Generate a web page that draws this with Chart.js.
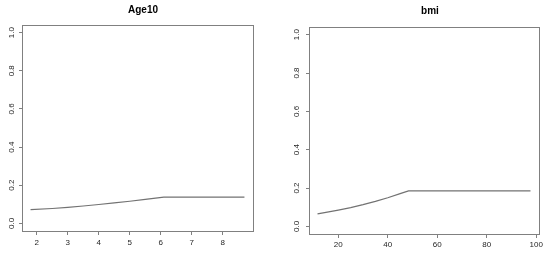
<!DOCTYPE html>
<html>
<head>
<meta charset="utf-8">
<script src="https://cdn.jsdelivr.net/npm/chart.js@4/dist/chart.umd.min.js"></script>
<style>
html,body{margin:0;padding:0;background:#fff;}
#wrap{position:relative;width:550px;height:255px;overflow:hidden;}
.cv{position:absolute;top:0;}
</style>
</head>
<body>
<div id="wrap">
  <div class="cv" style="left:0;width:275px;height:255px;"><canvas id="c1"></canvas></div>
  <div class="cv" style="left:275px;width:275px;height:255px;"><canvas id="c2"></canvas></div>
</div>
<script>
// ---- data ----
const titleAge = "Age10";
const ageX = [1.8, 2.5, 3.0, 3.5, 4.0, 4.5, 5.0, 5.5, 6.1, 7.0, 8.0, 8.7];
const ageY = [0.072, 0.078, 0.084, 0.091, 0.099, 0.107, 0.116, 0.126, 0.138, 0.138, 0.138, 0.138];
const ageXTicks = [2, 3, 4, 5, 6, 7, 8];

const titleBmi = "bmi";
const bmiX = [11.6, 15, 20, 25, 30, 35, 40, 45, 48.4, 60, 80, 97.7];
const bmiY = [0.065, 0.073, 0.085, 0.098, 0.113, 0.130, 0.149, 0.171, 0.185, 0.185, 0.185, 0.185];
const bmiXTicks = [20, 40, 60, 80, 100];

const yTicks = [0.0, 0.2, 0.4, 0.6, 0.8, 1.0];
const yLabels = ["0.0", "0.2", "0.4", "0.6", "0.8", "1.0"];

const FONT = "'Liberation Sans', Arial, sans-serif";

function makeChart(id, title, xs, ys, xTicks, cfg) {
  const pts = xs.map((x, i) => ({x: x, y: ys[i]}));
  const xmin = Math.min(...xs), xmax = Math.max(...xs);
  const ext = (xmax - xmin) * 0.04;
  const yExt = 0.04;
  const boxPlugin = {
    id: 'rbox',
    afterDraw(chart) {
      const ctx = chart.ctx, a = chart.chartArea, ys_ = chart.scales.y;
      ctx.save();
      ctx.strokeStyle = '#808080';
      ctx.lineWidth = 1;
      ctx.strokeRect(Math.round(a.left) + 0.5, Math.round(a.top) + 0.5,
                     Math.round(a.right - a.left), Math.round(a.bottom - a.top));
      // y tick labels rotated (R style)
      ctx.fillStyle = '#262626';
      ctx.font = "8px " + FONT;
      ctx.textAlign = 'center';
      ctx.textBaseline = 'middle';
      yTicks.forEach((v, i) => {
        const py = ys_.getPixelForValue(v);
        ctx.save();
        ctx.translate(a.left - cfg.yLabOff, py);
        ctx.rotate(-Math.PI / 2);
        ctx.fillText(yLabels[i], 0, 0);
        ctx.restore();
      });
      // title
      ctx.fillStyle = '#000';
      ctx.font = "bold 10px " + FONT;
      ctx.fillText(title, cfg.titleX, cfg.titleY);
      ctx.restore();
    }
  };
  return new Chart(document.getElementById(id), {
    type: 'line',
    data: {datasets: [{data: pts, borderColor: '#727272', borderWidth: 1.2, pointRadius: 0, fill: false, tension: 0}]},
    options: {
      responsive: true, maintainAspectRatio: false, animation: false,
      layout: {padding: {left: 0, right: cfg.padR, top: cfg.padT, bottom: 0}},
      plugins: {legend: {display: false}, tooltip: {enabled: false}, title: {display: false}},
      scales: {
        x: {
          type: 'linear', min: xmin - ext, max: xmax + ext,
          afterBuildTicks: s => { s.ticks = xTicks.map(v => ({value: v})); },
          afterFit: s => { s.height = cfg.xH; },
          border: {display: false},
          grid: {drawOnChartArea: false, drawTicks: true, tickLength: 4, color: '#808080'},
          ticks: {color: '#262626', font: {family: FONT, size: 8}, padding: cfg.xPad, maxRotation: 0, autoSkip: false}
        },
        y: {
          type: 'linear', min: 0 - yExt, max: 1 + yExt,
          afterBuildTicks: s => { s.ticks = yTicks.map(v => ({value: v})); },
          afterFit: s => { s.width = cfg.yW; },
          border: {display: false},
          grid: {drawOnChartArea: false, drawTicks: true, tickLength: 3, color: '#808080'},
          ticks: {display: false}
        }
      }
    },
    plugins: [boxPlugin]
  });
}

makeChart('c1', titleAge, ageX, ageY, ageXTicks,
  {padR: 22, padT: 25, xH: 24, yW: 22, yLabOff: 10, xPad: 3, titleX: 143, titleY: 10});
makeChart('c2', titleBmi, bmiX, bmiY, bmiXTicks,
  {padR: 11, padT: 27, xH: 21, yW: 34, yLabOff: 12, xPad: 2, titleX: 155, titleY: 11});
</script>
</body>
</html>
